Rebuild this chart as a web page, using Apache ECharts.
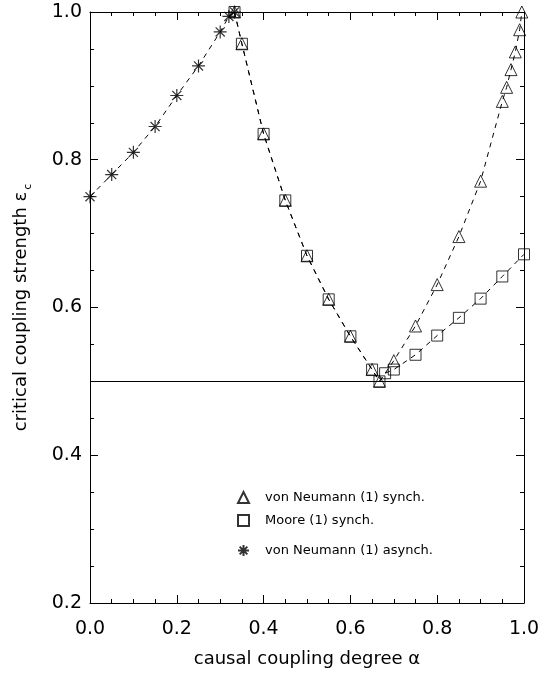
<!DOCTYPE html>
<html>
<head>
<meta charset="utf-8">
<script src="https://cdn.jsdelivr.net/npm/echarts@6/dist/echarts.min.js"></script>
<style>
  html, body { margin: 0; padding: 0; background: #fff; }
  #chart { width: 550px; height: 673px; }
</style>
</head>
<body>
<div id="chart"></div>
<script>
// asynchronous von Neumann (stars)
var asynchX = [0, 0.05, 0.1, 0.15, 0.2, 0.25, 0.3, 0.32, 0.333];
var asynchY = [0.75, 0.78, 0.81, 0.845, 0.887, 0.927, 0.973, 0.994, 1.0];
// synchronous von Neumann (triangles)
var neumannX = [0.333, 0.35, 0.4, 0.45, 0.5, 0.55, 0.6, 0.65, 0.667, 0.7, 0.75, 0.8, 0.85, 0.9, 0.95, 0.96, 0.97, 0.98, 0.99, 0.995];
var neumannY = [1.0, 0.957, 0.835, 0.745, 0.67, 0.611, 0.561, 0.516, 0.5, 0.528, 0.575, 0.631, 0.696, 0.771, 0.879, 0.898, 0.922, 0.946, 0.976, 1.0];
// synchronous Moore (squares)
var mooreX = [0.333, 0.35, 0.4, 0.45, 0.5, 0.55, 0.6, 0.65, 0.667, 0.68, 0.7, 0.75, 0.8, 0.85, 0.9, 0.95, 1.0];
var mooreY = [1.0, 0.957, 0.835, 0.745, 0.67, 0.611, 0.561, 0.516, 0.5, 0.511, 0.516, 0.536, 0.562, 0.586, 0.612, 0.642, 0.672];
var xTicks = [0, 1, 0.2];   // min, max, interval
var yTicks = [0.2, 1, 0.2];
var threshold = 0.5;
var names = ["von Neumann (1) synch.", "Moore (1) synch.", "von Neumann (1) asynch."];

function pairs(xs, ys) {
  return xs.map(function (x, i) { return [x, ys[i]]; });
}

var font = "DejaVu Sans";
var starPath = "path://M0,-10L0,10M-10,0L10,0M-7,-7L7,7M-7,7L7,-7";

function axisBase(pos, showLabel, isX) {
  var t = isX ? xTicks : yTicks;
  return {
    type: "value",
    position: pos,
    min: t[0],
    max: t[1],
    interval: t[2],
    axisLine: { show: true, onZero: false, lineStyle: { color: "#000", width: 1 } },
    axisTick: { show: true, inside: true, length: 8, lineStyle: { color: "#000" } },
    minorTick: { show: true, splitNumber: 4, length: 4, lineStyle: { color: "#000" } },
    splitLine: { show: false },
    axisLabel: {
      show: showLabel,
      color: "#000",
      fontFamily: font,
      fontSize: 19,
      margin: isX ? 17 : 8,
      formatter: function (v) { return v.toFixed(1); }
    }
  };
}

var xBottom = axisBase("bottom", true, true);
xBottom.name = "causal coupling degree α";
xBottom.nameLocation = "middle";
xBottom.nameGap = 47;
xBottom.nameTextStyle = { color: "#000", fontFamily: font, fontSize: 18 };

var yLeft = axisBase("left", true, false);
yLeft.name = "critical coupling strength {e|ε}{sub|c}";
yLeft.nameLocation = "middle";
yLeft.nameGap = 60;
yLeft.nameTextStyle = {
  color: "#000", fontFamily: font, fontSize: 18,
  rich: {
    e: { fontFamily: font, fontSize: 18, color: "#000" },
    sub: { fontFamily: font, fontSize: 11, color: "#000", verticalAlign: "bottom", padding: [0, 0, -4, 2] }
  }
};

var dash = { color: "#000", width: 1, type: [5, 5] };
var hollow = { color: "rgba(0,0,0,0)", borderColor: "#000", borderWidth: 1 };

function legendAt(name, top) {
  return {
    data: [name],
    left: 232,
    top: top,
    orient: "vertical",
    itemWidth: 11,
    itemHeight: 11,
    selectedMode: false,
    textStyle: { color: "#000", fontFamily: font, fontSize: 13, padding: [0, 0, 0, 11] }
  };
}

var chart = echarts.init(document.getElementById("chart"));
chart.setOption({
  animation: false,
  backgroundColor: "#fff",
  grid: { left: 90, right: 26, top: 12, bottom: 69 },
  legend: [legendAt(names[0], 486), legendAt(names[1], 509), legendAt(names[2], 539)],
  xAxis: [xBottom, axisBase("top", false, true)],
  yAxis: [yLeft, axisBase("right", false, false)],
  series: [
    {
      name: "asynch line", type: "line", data: pairs(asynchX, asynchY),
      showSymbol: false, lineStyle: dash, silent: true,
      markLine: {
        silent: true, symbol: "none", label: { show: false },
        lineStyle: { color: "#000", width: 1, type: "solid" },
        data: [{ yAxis: threshold }]
      }
    },
    { name: "neumann line", type: "line", data: pairs(neumannX, neumannY), showSymbol: false, lineStyle: dash, silent: true },
    { name: "moore line", type: "line", data: pairs(mooreX, mooreY), showSymbol: false, lineStyle: dash, silent: true },
    {
      name: names[0], type: "scatter", data: pairs(neumannX, neumannY),
      symbol: "triangle", symbolSize: 12, itemStyle: hollow
    },
    {
      name: names[1], type: "scatter", data: pairs(mooreX, mooreY),
      symbol: "rect", symbolSize: 11, itemStyle: hollow
    },
    {
      name: names[2], type: "scatter", data: pairs(asynchX, asynchY),
      symbol: starPath, symbolSize: 13,
      itemStyle: { color: "rgba(0,0,0,0)", borderColor: "#000", borderWidth: 1.2 }
    }
  ]
});
</script>
</body>
</html>
